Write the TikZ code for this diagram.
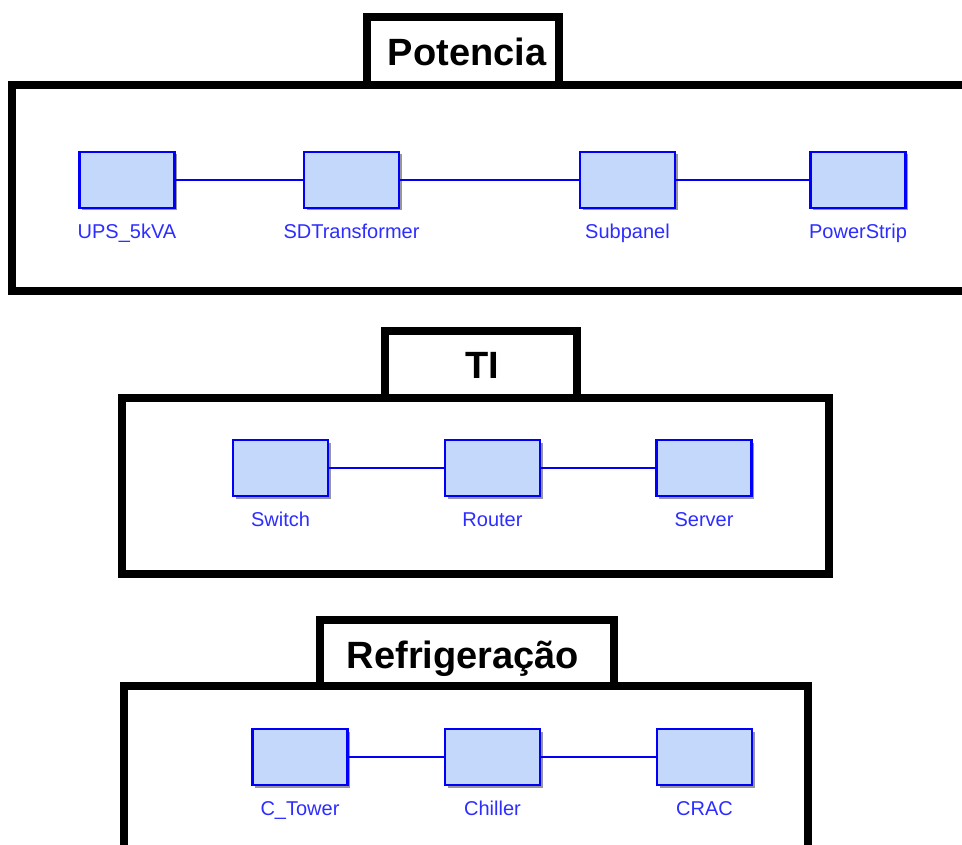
\documentclass[tikz,border=0pt]{standalone}
\usepackage{fontspec}
\setmainfont{Liberation Sans}
\usetikzlibrary{shadows}
\definecolor{boxfill}{RGB}{196,216,252}
\definecolor{boxline}{RGB}{0,0,250}
\definecolor{lbltext}{RGB}{45,45,255}
\definecolor{shadowgray}{RGB}{140,140,140}
\begin{document}
\begin{tikzpicture}[x=1pt,y=-1pt,
  frame/.style={draw=black,line width=8pt,line join=miter},
  comp/.style={draw=boxline,fill=boxfill,line width=2.3pt,minimum width=95pt,minimum height=56pt,inner sep=0pt,
    drop shadow={shadow xshift=2.5pt,shadow yshift=-2.5pt,fill=shadowgray,opacity=0.9}},
  lbl/.style={text=lbltext,font=\fontsize{20}{24}\selectfont,anchor=base,inner sep=0pt},
  title/.style={font=\bfseries\fontsize{38}{44}\selectfont,inner sep=0pt,anchor=base},
  wire/.style={draw=boxline,line width=1.8pt}]
\useasboundingbox (0,0) rectangle (962,845);
\clip (0,0) rectangle (962,845);
\fill[white] (0,0) rectangle (962,845);

% ---------- Potencia ----------
\draw[frame] (12,85) rectangle (980,291);
\draw[frame] (367,85) -- (367,17.5) -- (559,17.5) -- (559,85);
\node[title] (tpot) at (467,66) {Potencia};

\node[comp] (ups) at (127,180) {};
\node[comp] (sdt) at (351.5,180) {};
\node[comp] (sub) at (627.5,180) {};
\node[comp] (pst) at (858,180) {};
\node[lbl] (upsl) at ([yshift=-29pt]ups.south) {UPS\_5kVA};
\node[lbl] (sdtl) at ([yshift=-29pt]sdt.south) {SDTransformer};
\node[lbl] (subl) at ([yshift=-29pt]sub.south) {Subpanel};
\node[lbl] (pstl) at ([yshift=-29pt]pst.south) {PowerStrip};
\draw[wire] (ups.east) -- (sdt.west);
\draw[wire] (sdt.east) -- (sub.west);
\draw[wire] (sub.east) -- (pst.west);

% ---------- TI ----------
\draw[frame] (122,398) rectangle (829,574);
\draw[frame] (385,398) -- (385,331) -- (577,331) -- (577,398);
\node[title] (tti) at (482,378) {TI};

\node[comp] (sw) at (280.5,468) {};
\node[comp] (rt) at (492.5,468) {};
\node[comp] (sv) at (704,468) {};
\node[lbl] (swl) at ([yshift=-29pt]sw.south) {Switch};
\node[lbl] (rtl) at ([yshift=-29pt]rt.south) {Router};
\node[lbl] (svl) at ([yshift=-29pt]sv.south) {Server};
\draw[wire] (sw.east) -- (rt.west);
\draw[wire] (rt.east) -- (sv.west);

% ---------- Refrigeracao ----------
\draw[frame] (124,686) rectangle (808,900);
\draw[frame] (320,686) -- (320,620) -- (614,620) -- (614,686);
\node[title] (tref) at (463,668) {Refrigeração};

\node[comp] (ct) at (300,757) {};
\node[comp] (ch) at (492.5,757) {};
\node[comp] (cr) at (704.5,757) {};
\node[lbl] (ctl) at ([yshift=-29pt]ct.south) {C\_Tower};
\node[lbl] (chl) at ([yshift=-29pt]ch.south) {Chiller};
\node[lbl] (crl) at ([yshift=-29pt]cr.south) {CRAC};
\draw[wire] (ct.east) -- (ch.west);
\draw[wire] (ch.east) -- (cr.west);
\end{tikzpicture}
\end{document}
